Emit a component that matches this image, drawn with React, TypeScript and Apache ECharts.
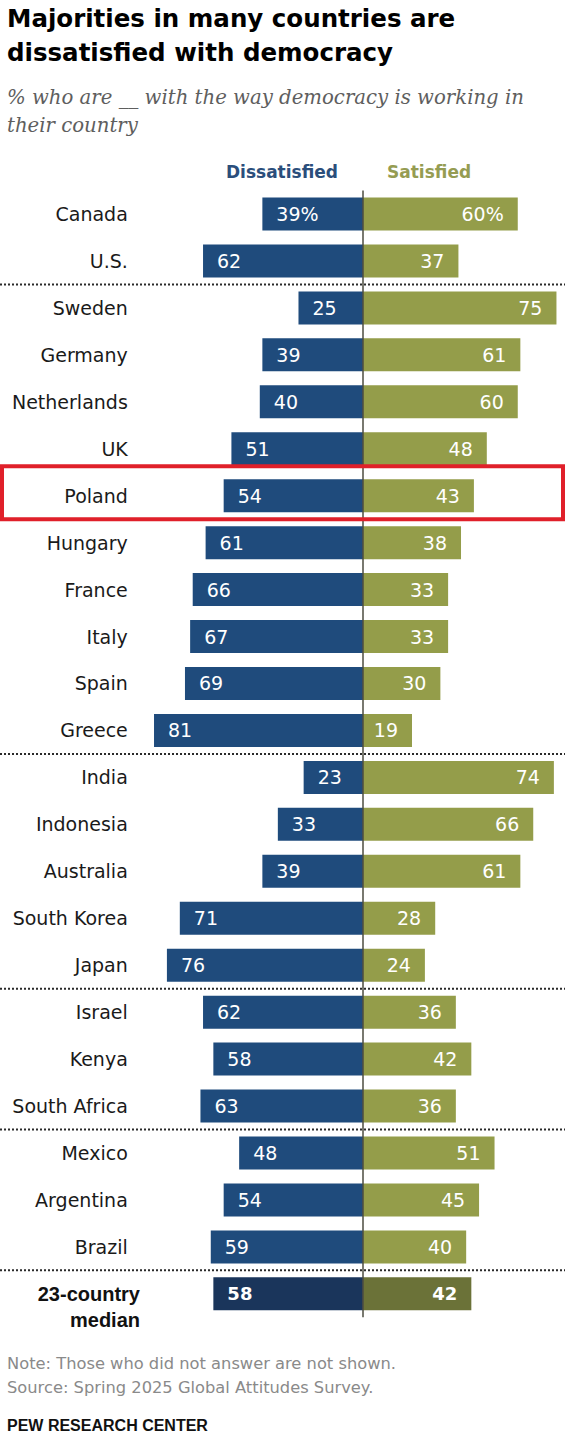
import React, { useEffect, useRef } from "react";
import * as echarts from "echarts";

const countries = [
  "Canada", "U.S.", "Sweden", "Germany", "Netherlands", "UK", "Poland", "Hungary",
  "France", "Italy", "Spain", "Greece", "India", "Indonesia", "Australia",
  "South Korea", "Japan", "Israel", "Kenya", "South Africa", "Mexico", "Argentina",
  "Brazil", "23-country median",
];
const dissatisfied = [39, 62, 25, 39, 40, 51, 54, 61, 66, 67, 69, 81, 23, 33, 39, 71, 76, 62, 58, 63, 48, 54, 59, 58];
const satisfied = [60, 37, 75, 61, 60, 48, 43, 38, 33, 33, 30, 19, 74, 66, 61, 28, 24, 36, 42, 36, 51, 45, 40, 42];
const groupEnds = ["U.S.", "Greece", "Japan", "South Africa", "Brazil"];
const highlighted = "Poland";
const medianLines = ["23-country", "median"];

const titleText = "Majorities in many countries are\ndissatisfied with democracy";
const subtitleText = "% who are __ with the way democracy is working in\ntheir country";
const noteText = "Note: Those who did not answer are not shown.";
const sourceText = "Source: Spring 2025 Global Attitudes Survey.";
const brandText = "PEW RESEARCH CENTER";

const BLUE = "#1f4b7c";
const OLIVE = "#949d4a";
const BLUE_DARK = "#1a355b";
const OLIVE_DARK = "#6b7238";
const SANS = '"DejaVu Sans", sans-serif';
const SANS2 = '"Liberation Sans", Arial, sans-serif';
const SERIF = '"DejaVu Serif", serif';

export default function App() {
  const ref = useRef<HTMLDivElement>(null);

  useEffect(() => {
    document.body.style.margin = "0";
    const chart = echarts.init(ref.current!, null, { renderer: "svg" });
    const last = countries.length - 1;

    const labelFormatter = (p: any) =>
      Math.abs(p.value) + (p.dataIndex === 0 ? "%" : "");

    chart.setOption({
      animation: false,
      textStyle: { fontFamily: SANS },
      grid: { left: 130.8, width: 433.4, top: 190.5, height: 1126.8, containLabel: false },
      xAxis: { type: "value", min: -90, max: 78, show: false },
      yAxis: {
        type: "category",
        inverse: true,
        data: countries,
        axisLine: { show: false },
        axisTick: { show: false },
        splitLine: { show: false },
        axisLabel: {
          margin: 3,
          fontSize: 19,
          color: "#1a1a1a",
          fontFamily: SANS,
          formatter: (v: string) => (v === countries[last] ? "" : v),
        },
      },
      series: [
        {
          name: "Dissatisfied",
          type: "bar",
          stack: "total",
          barWidth: 33,
          data: dissatisfied.map((v, i) => ({
            value: -v,
            itemStyle: { color: i === last ? BLUE_DARK : BLUE },
            label: i === last ? { fontWeight: "bold", fontSize: 18 } : undefined,
          })),
          label: {
            show: true,
            position: "insideLeft",
            distance: 14,
            color: "#fff",
            fontSize: 19,
            fontFamily: SANS,
            formatter: labelFormatter,
          },
        },
        {
          name: "Satisfied",
          type: "bar",
          stack: "total",
          barWidth: 33,
          data: satisfied.map((v, i) => ({
            value: v,
            itemStyle: { color: i === last ? OLIVE_DARK : OLIVE },
            label: i === last ? { fontWeight: "bold", fontSize: 18 } : undefined,
          })),
          label: {
            show: true,
            position: "insideRight",
            distance: 14,
            color: "#fff",
            fontSize: 19,
            fontFamily: SANS,
            formatter: labelFormatter,
          },
          markLine: {
            silent: true,
            symbol: "none",
            label: { show: false },
            lineStyle: { color: "#4d4d40", width: 1.5, type: "solid" },
            data: [{ xAxis: 0 }],
            z: 10,
          },
        },
      ],
    });

    const yOf = (c: string) => chart.convertToPixel({ yAxisIndex: 0 }, c) as number;
    const W = 565;

    const separators = groupEnds.map((c) => {
      const i = countries.indexOf(c);
      const y = (yOf(countries[i]) + yOf(countries[i + 1])) / 2;
      return {
        type: "line",
        silent: true,
        z: 5,
        shape: { x1: 0, y1: y, x2: W, y2: y },
        style: { stroke: "#2a2a2a", lineWidth: 2, lineDash: [2, 2] },
      };
    });

    const yP = yOf(highlighted);
    const yM = yOf(countries[last]);

    chart.setOption({
      graphic: {
        elements: [
          {
            type: "text",
            left: 7,
            top: 1,
            style: {
              text: titleText,
              font: `bold 24.5px ${SANS}`,
              lineHeight: 34,
              fill: "#000",
            },
          },
          {
            type: "text",
            left: 7,
            top: 83,
            style: {
              text: subtitleText,
              font: `italic 19.7px ${SERIF}`,
              lineHeight: 28,
              fill: "#5e5e5e",
            },
          },
          {
            type: "text",
            x: 338,
            y: 171.7,
            style: {
              text: "Dissatisfied",
              font: `bold 17px ${SANS}`,
              fill: "#2b4e7b",
              align: "right",
              verticalAlign: "middle",
            },
          },
          {
            type: "text",
            x: 387,
            y: 171.7,
            style: {
              text: "Satisfied",
              font: `bold 17px ${SANS}`,
              fill: "#959c52",
              align: "left",
              verticalAlign: "middle",
            },
          },
          ...separators,
          {
            type: "rect",
            silent: true,
            z: 20,
            shape: { x: 2, y: yP - 29.5, width: 561, height: 53 },
            style: { fill: "none", stroke: "#e0202a", lineWidth: 4 },
          },
          {
            type: "text",
            x: 140,
            y: yM - 13,
            style: {
              text: medianLines.join("\n"),
              font: `bold 20px ${SANS2}`,
              lineHeight: 26,
              fill: "#111",
              align: "right",
              verticalAlign: "top",
            },
          },
          {
            type: "text",
            x: 7,
            y: 1363.5,
            style: {
              text: noteText,
              font: `16.3px ${SANS}`,
              fill: "#8a8a8a",
              verticalAlign: "middle",
            },
          },
          {
            type: "text",
            x: 7,
            y: 1387.5,
            style: {
              text: sourceText,
              font: `16.3px ${SANS}`,
              fill: "#8a8a8a",
              verticalAlign: "middle",
            },
          },
          {
            type: "text",
            x: 7,
            y: 1425,
            style: {
              text: brandText,
              font: `bold 16px ${SANS2}`,
              fill: "#111",
              verticalAlign: "middle",
            },
          },
        ],
      },
    });

    return () => chart.dispose();
  }, []);

  return <div ref={ref} style={{ width: 565, height: 1440 }} />;
}
